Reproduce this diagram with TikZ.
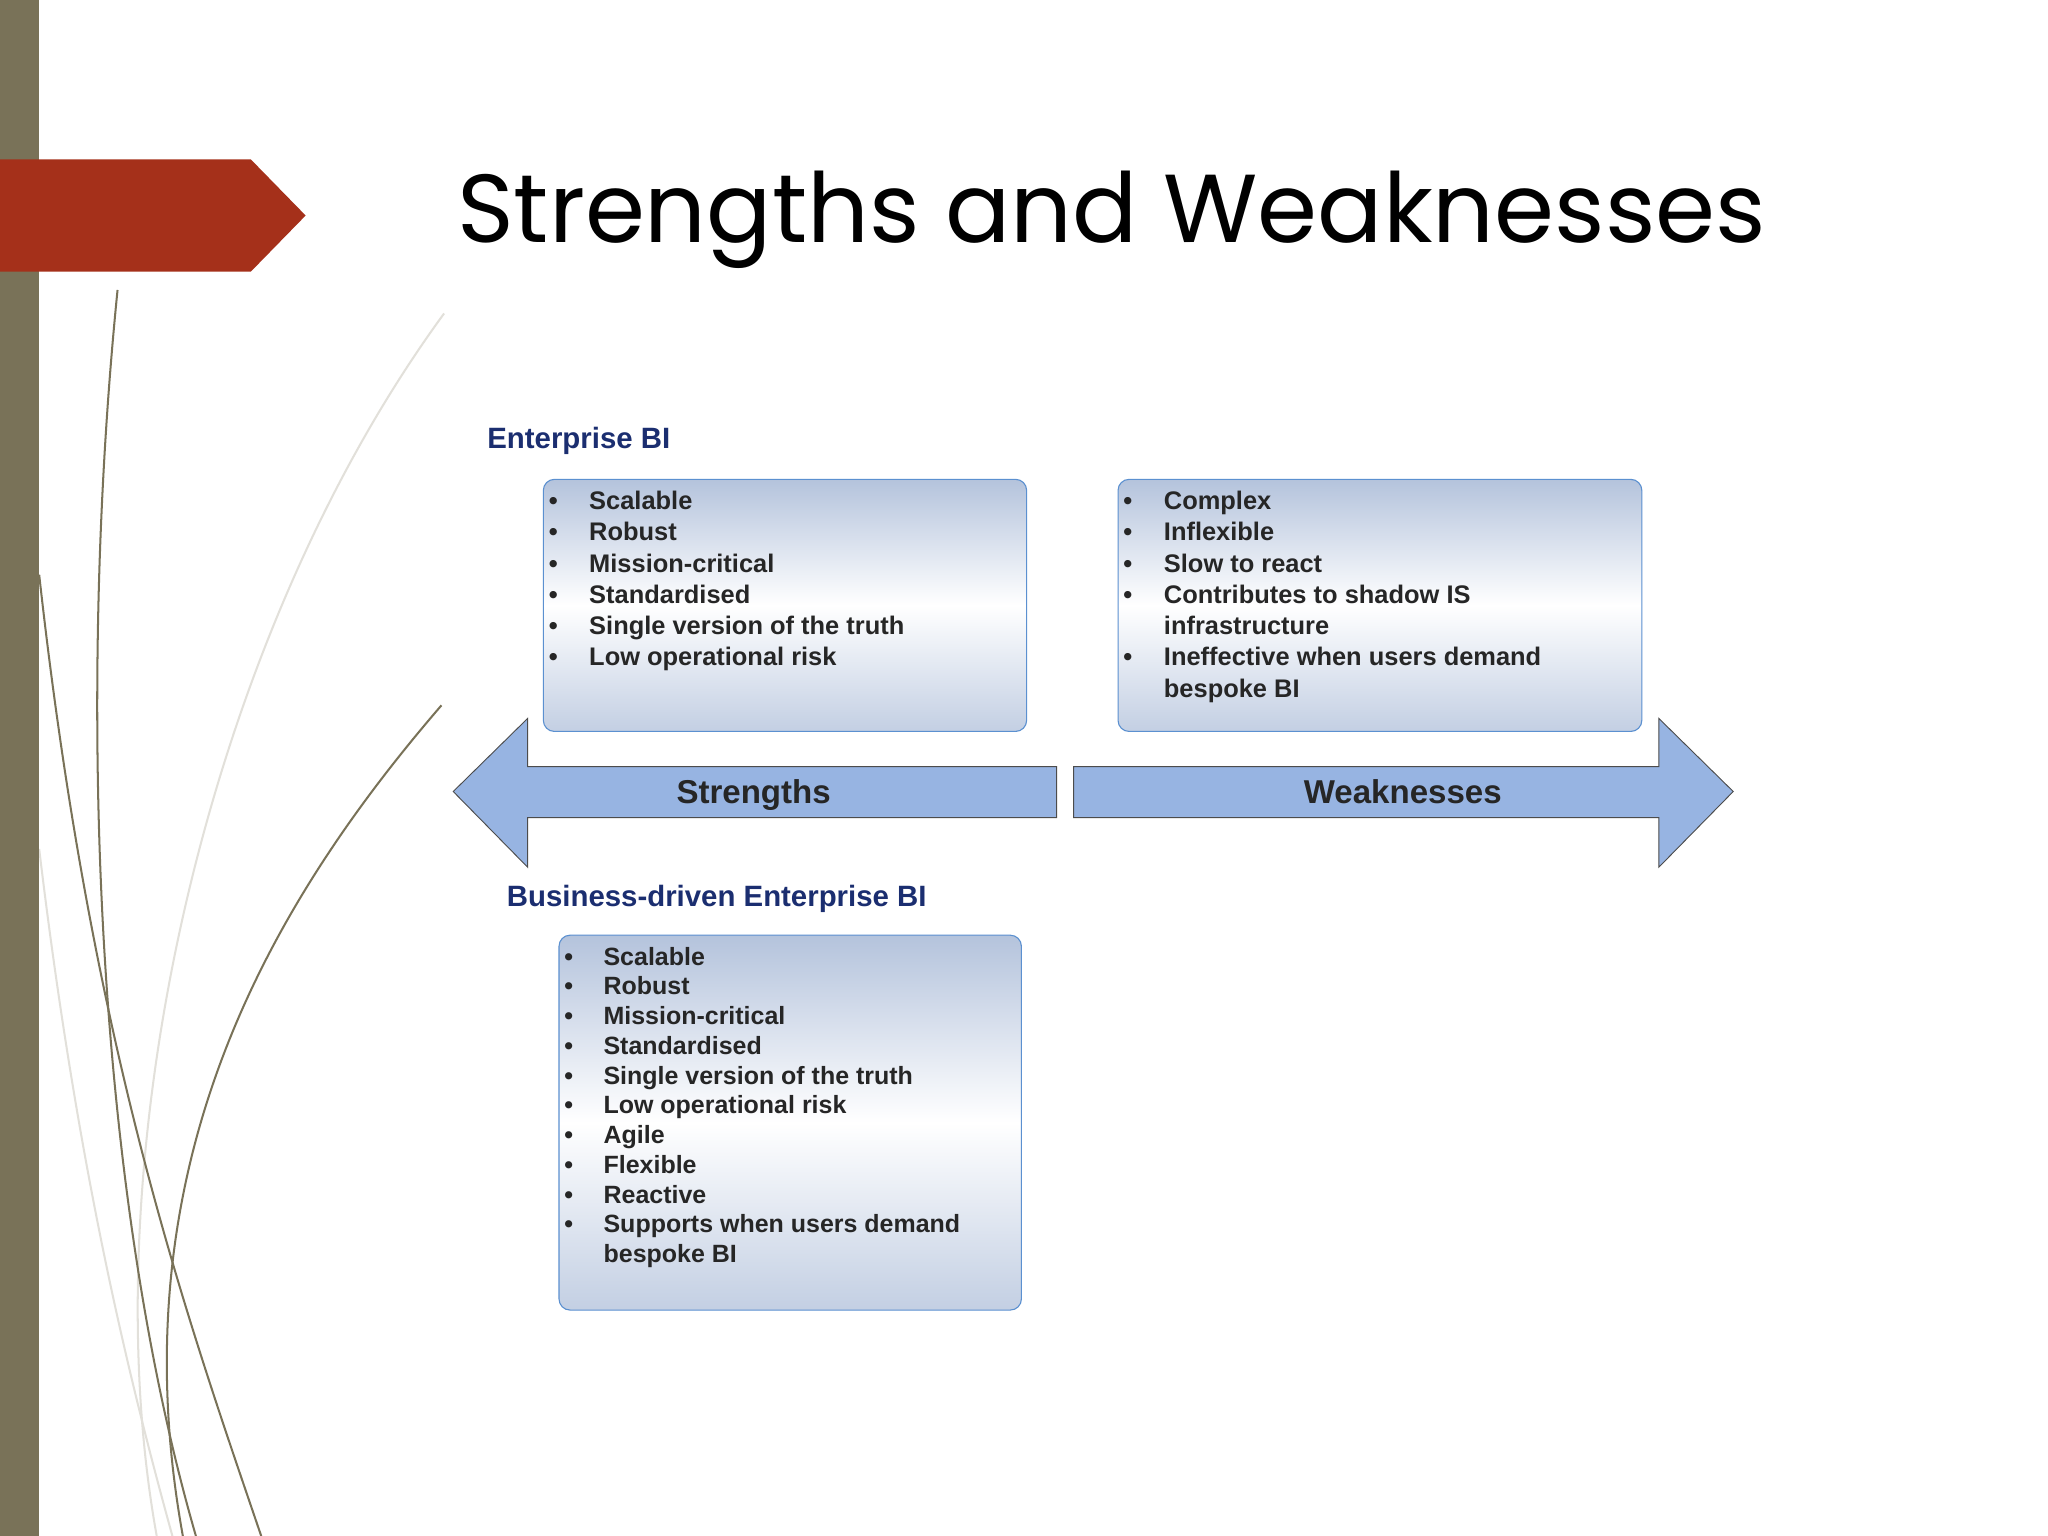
\documentclass[tikz,border=0pt]{standalone}
\usepackage{fontspec}
\setmainfont{Liberation Sans}
\newfontfamily\titlefont{Poppins}
\usepackage{array}
\definecolor{olive}{HTML}{797258}
\definecolor{redarrow}{HTML}{A5301A}
\definecolor{navy}{HTML}{1B2E70}
\definecolor{arrowfill}{HTML}{97B4E2}
\definecolor{boxtop}{HTML}{B4C3DC}
\definecolor{boxbot}{HTML}{C3CFE3}
\definecolor{boxedge}{HTML}{5B90D0}
\definecolor{lightgray}{HTML}{E2E0DA}
\tikzset{
  listbox/.style={draw=boxedge, line width=1.2pt, rounded corners=12pt, top color=boxtop, bottom color=boxbot, middle color=white},
  head/.style={text=navy, font=\bfseries\fontsize{32}{36}\selectfont, anchor=base west, inner sep=0},
  items/.style={font=\bfseries\fontsize{27.7}{34.1}\selectfont, anchor=base west, inner sep=0, text=black!85},
  bigarrow/.style={fill=arrowfill, draw=black!70, line width=1pt},
  arrlabel/.style={font=\bfseries\fontsize{36}{40}\selectfont, text=black!85, anchor=base, inner sep=0},
  curveolive/.style={draw=olive, line width=2.2pt},
  curvegray/.style={draw=lightgray, line width=2.2pt}
}
\begin{document}
\begin{tikzpicture}[x=0.05cm,y=-0.05cm]
\useasboundingbox (0,0) rectangle (1568,1176);
\fill[white] (0,0) rectangle (1568,1176);
% decorative curves
\draw[curvegray] (340,240) .. controls (150,500) and (70,900) .. (120,1176);
\draw[curvegray] (30,650) .. controls (60,900) and (100,1060) .. (132,1176);
\draw[curveolive] (90,222) .. controls (60,520) and (70,900) .. (150,1176);
\draw[curveolive] (30,440) .. controls (70,800) and (140,1000) .. (200,1176);
\draw[curveolive] (338,540) .. controls (200,700) and (90,900) .. (140,1176);
% left bar and red tab
\fill[olive] (0,0) rectangle (30,1176);
\fill[redarrow] (0,122) -- (192,122) -- (234,165) -- (192,208) -- (0,208) -- cycle;
% title
\node[anchor=center, inner sep=0] (title) at (851,168) {\resizebox{50.1cm}{!}{\titlefont\fontsize{120}{130}\selectfont Strengths and Weaknesses}};
% headings
\node[head] (h1) at (373,343) {Enterprise BI};
\node[head] (h2) at (388,694) {Business-driven Enterprise BI};
% boxes
\path[listbox] (416,367) rectangle (786,560);
\path[listbox] (856,367) rectangle (1257,560);
\path[listbox] (428,716) rectangle (782,1003);
\node[items] (l1) at (420,390) {\begin{tabular}[t]{@{}p{1.55cm}@{}l@{}}
\textbullet & Scalable\\
\textbullet & Robust\\
\textbullet & Mission-critical\\
\textbullet & Standardised\\
\textbullet & Single version of the truth\\
\textbullet & Low operational risk
\end{tabular}};
\node[items] (l2) at (860,390) {\begin{tabular}[t]{@{}p{1.55cm}@{}l@{}}
\textbullet & Complex\\
\textbullet & Inflexible\\
\textbullet & Slow to react\\
\textbullet & Contributes to shadow IS\\
 & infrastructure\\
\textbullet & Ineffective when users demand\\
 & bespoke BI
\end{tabular}};
\node[items, font=\bfseries\fontsize{27.2}{32.4}\selectfont] (l3) at (432,739) {\begin{tabular}[t]{@{}p{1.5cm}@{}l@{}}
\textbullet & Scalable\\
\textbullet & Robust\\
\textbullet & Mission-critical\\
\textbullet & Standardised\\
\textbullet & Single version of the truth\\
\textbullet & Low operational risk\\
\textbullet & Agile\\
\textbullet & Flexible\\
\textbullet & Reactive\\
\textbullet & Supports when users demand\\
 & bespoke BI
\end{tabular}};
% arrows
\path[bigarrow] (809,587) -- (404,587) -- (404,550) -- (347,606) -- (404,664) -- (404,626) -- (809,626) -- cycle;
\path[bigarrow] (822,587) -- (1270,587) -- (1270,550) -- (1327,606) -- (1270,664) -- (1270,626) -- (822,626) -- cycle;
\node[arrlabel] (s) at (577,615) {Strengths};
\node[arrlabel] (w) at (1074,615) {Weaknesses};
\end{tikzpicture}
\end{document}
